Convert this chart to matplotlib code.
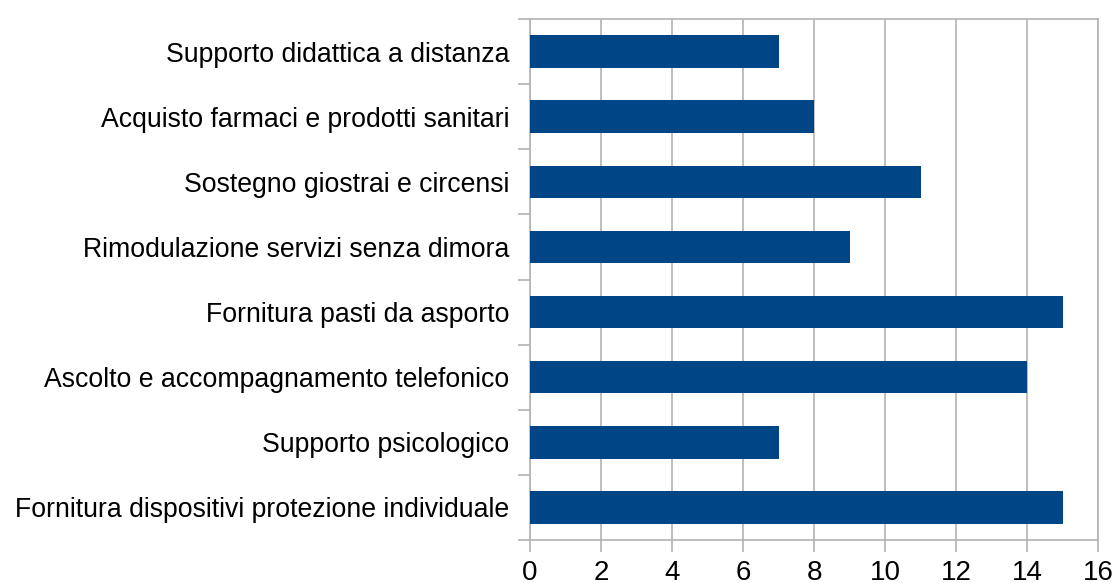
import matplotlib
matplotlib.use("Agg")
import matplotlib.pyplot as plt
import numpy as np

categories = [
    "Supporto didattica a distanza",
    "Acquisto farmaci e prodotti sanitari",
    "Sostegno giostrai e circensi",
    "Rimodulazione servizi senza dimora",
    "Fornitura pasti da asporto",
    "Ascolto e accompagnamento telefonico",
    "Supporto psicologico",
    "Fornitura dispositivi protezione individuale",
]
values = [7, 8, 11, 9, 15, 14, 7, 15]
x_ticks = [0, 2, 4, 6, 8, 10, 12, 14, 16]

plt.rcParams['font.family'] = ['Liberation Sans', 'DejaVu Sans']

fig = plt.figure(figsize=(11.15, 5.83), dpi=100)
ax = fig.add_axes([530/1115, 1-540/583, (1098-530)/1115, (540-19)/583])

n = len(categories)
ypos = np.arange(n)[::-1]
grid_c = '#b3b3b3'
ax.barh(ypos, values, height=0.5, color='#004586', zorder=3)

ax.set_xlim(0, 16)
ax.set_ylim(-0.5, n - 0.5)
ax.set_xticks(x_ticks)
ax.set_xticklabels([str(t) for t in x_ticks])
ax.set_yticks(ypos)
ax.set_yticklabels(categories)
ax.set_yticks(np.arange(-0.5, n, 1.0), minor=True)

ax.xaxis.grid(True, color=grid_c, linewidth=1.2, zorder=0)
ax.set_axisbelow(True)

for s in ax.spines.values():
    s.set_color(grid_c)
    s.set_linewidth(1.2)

ax.tick_params(axis='y', which='major', length=0, pad=15, labelsize=19.2, labelcolor='black')
ax.tick_params(axis='y', which='minor', length=8.5, width=1.2, color=grid_c, direction='out')
ax.tick_params(axis='x', which='major', length=8.5, width=1.2, color=grid_c, pad=6,
               labelsize=20, labelcolor='black')

fig.savefig('out.png', dpi=100, facecolor='white')
